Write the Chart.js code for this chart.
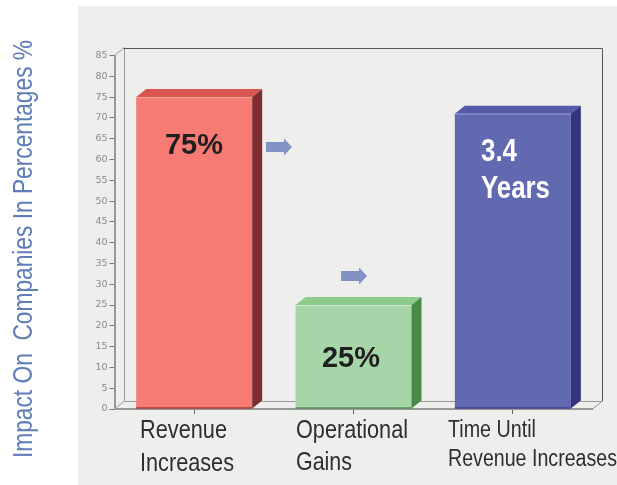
<!DOCTYPE html>
<html><head><meta charset="utf-8">
<style>html,body{margin:0;padding:0;background:#fff}canvas{display:block}</style>
<script src="https://cdn.jsdelivr.net/npm/chart.js@4"></script>
</head><body><canvas id="c" width="617" height="485" style="width:617px;height:485px"></canvas>
<script>
const categories = ["Revenue Increases", "Operational Gains", "Time Until Revenue Increases"];
const values = [75, 25, 71];
const tickValues = [0,5,10,15,20,25,30,35,40,45,50,55,60,65,70,75,80,85];
const frontColors = ["#f67b74", "#a6d6a8", "#6169b1"];
const topColors = ["#d95652", "#8ccb8c", "#5559a6"];
const sideColors = ["#7d2e30", "#4a8a48", "#34337f"];
const edgeColors = ["#fba8a2", "#cfe8cd", "#8f93c6"];
const baseColors = ["#7d1f20", "#2f6f35", "#2d2d80"];
const yTitle = "Impact On  Companies In Percentages %";
const DX = 10, DY = 8;
const SANS = '"Liberation Sans"';

function squeezed(c,s,x,y,w){ c.fillText(s,x,y,w); }

const scene = {
  id:'scene',
  beforeDraw(ch){
    const c=ch.ctx, a=ch.chartArea;
    c.save();
    c.fillStyle='#eeeeec'; c.fillRect(78,6,539,479);
    const L=a.left,R=a.right,T=a.top,B=a.bottom;
    c.lineWidth=1;
    c.strokeStyle='#999';
    c.beginPath();
    c.moveTo(L,T);c.lineTo(L+DX,T-DY);
    c.moveTo(L,B);c.lineTo(L+DX,B-DY);
    c.moveTo(R,B);c.lineTo(R+DX,B-DY);
    c.moveTo(Math.round(L+DX)-.5,T-DY);c.lineTo(Math.round(L+DX)-.5,B-DY);
    c.moveTo(L+DX,Math.round(B-DY)+.5);c.lineTo(R+DX,Math.round(B-DY)+.5);
    c.stroke();
    c.strokeStyle='#555';
    c.beginPath();
    c.moveTo(L+DX-1,Math.round(T-DY)+.5);c.lineTo(Math.round(R+DX)-.5,Math.round(T-DY)+.5);c.lineTo(Math.round(R+DX)-.5,B-DY);
    c.stroke();
    c.restore();
  },
  afterDatasetsDraw(ch){
    const c=ch.ctx, y=ch.scales.y;
    const m=ch.getDatasetMeta(0);
    c.save();
    m.data.forEach((b,i)=>{
      const l=b.x-b.width/2,r=b.x+b.width/2,t=b.y,bt=b.base;
      c.fillStyle=topColors[i];
      c.beginPath();c.moveTo(l,t);c.lineTo(l+DX,t-DY);c.lineTo(r+DX,t-DY);c.lineTo(r,t);c.closePath();c.fill();
      c.fillStyle=sideColors[i];
      c.beginPath();c.moveTo(r,t);c.lineTo(r+DX,t-DY);c.lineTo(r+DX,bt-DY);c.lineTo(r,bt);c.closePath();c.fill();
      c.fillStyle=edgeColors[i];c.fillRect(l,t,r-l,1);
      c.fillStyle=baseColors[i];c.fillRect(l,bt-1,r-l,1);
    });
    c.textAlign='left';c.textBaseline='alphabetic';
    c.fillStyle='#1f1f1f';c.font='bold 30px '+SANS;
    squeezed(c,"75%",165,154,58);
    squeezed(c,"25%",322,367,58);
    c.fillStyle='#ffffff';c.font='bold 31px '+SANS;
    squeezed(c,"3.4",481,161,36);
    squeezed(c,"Years",481,198,69);
    [[266,63],[341,32]].forEach(([ax,v])=>{
      const py=y.getPixelForValue(v);
      c.fillStyle='#8292c4';
      c.beginPath();c.moveTo(ax,py-5);c.lineTo(ax+18,py-5);c.lineTo(ax+18,py-8.5);c.lineTo(ax+26,py);c.lineTo(ax+18,py+8.5);c.lineTo(ax+18,py+5);c.lineTo(ax,py+5);c.closePath();c.fill();
    });
    c.fillStyle='#2e2e2e';
    c.font='25px '+SANS;
    squeezed(c,"Revenue",140,438,87);
    squeezed(c,"Increases",140,471,94);
    squeezed(c,"Operational",296,438,112);
    squeezed(c,"Gains",296,470,56);
    c.font='23px '+SANS;
    squeezed(c,"Time Until",448,437,88);
    squeezed(c,"Revenue Increases",448,466,169);
    c.translate(32,458);c.rotate(-Math.PI/2);
    c.font='27px '+SANS;c.fillStyle='#5f7db8';
    squeezed(c,yTitle,0,0,418);
    c.restore();
  }
};

new Chart(document.getElementById('c'),{
  type:'bar',
  data:{labels:categories,datasets:[{data:values,backgroundColor:frontColors,categoryPercentage:0.728,barPercentage:1,borderWidth:0}]},
  options:{
    responsive:false,animation:false,
    layout:{padding:{left:0,right:24.5,top:55.5,bottom:0}},
    plugins:{legend:{display:false},tooltip:{enabled:false}},
    scales:{
      x:{afterFit(s){s.height=76;},
         grid:{display:true,offset:false,drawOnChartArea:false,drawTicks:true,tickLength:5,color:'#666'},border:{color:'#999',width:2},
         ticks:{display:true,font:{size:1},padding:0,maxRotation:0,callback:()=>''}},
      y:{min:0,max:85,afterFit(s){s.width=114.5;},afterBuildTicks(s){s.ticks=tickValues.map(v=>({value:v}));},
         grid:{display:true,drawOnChartArea:false,tickLength:5,color:'#777'},border:{color:'#999',width:2},
         ticks:{color:'#8a8a8a',font:{family:'"DejaVu Sans"',size:9.5},padding:2}}
    }
  },
  plugins:[scene]
});
</script></body></html>
